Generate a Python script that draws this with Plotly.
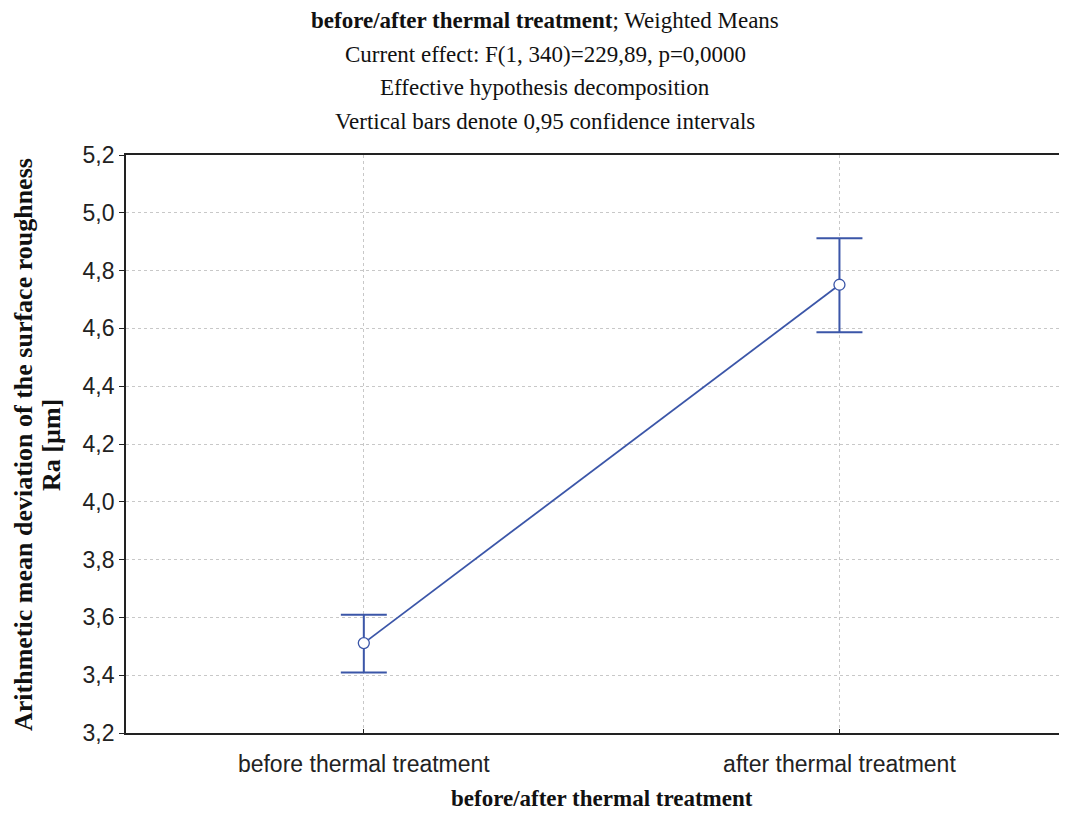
import plotly.graph_objects as go

categories = ["before thermal treatment", "after thermal treatment"]
means = [3.511, 4.751]
ci_upper = [3.609, 4.912]
ci_lower = [3.409, 4.587]
y_ticks = [3.2, 3.4, 3.6, 3.8, 4.0, 4.2, 4.4, 4.6, 4.8, 5.0, 5.2]

title_lines = [
    "<b>before/after thermal treatment</b>; Weighted Means",
    "Current effect: F(1, 340)=229,89, p=0,0000",
    "Effective hypothesis decomposition",
    "Vertical bars denote 0,95 confidence intervals",
]
y_title_lines = ["Arithmetic mean deviation of the surface roughness", "Ra [µm]"]
x_title = "before/after thermal treatment"

blue = "#3B56A8"
xpos = list(range(len(categories)))

fig = go.Figure()
fig.add_trace(go.Scatter(
    x=xpos, y=means, mode="lines+markers",
    line=dict(color=blue, width=1.8),
    marker=dict(symbol="circle", size=11, color="white", line=dict(color=blue, width=1.3)),
    error_y=dict(type="data", symmetric=False,
                 array=[u - m for u, m in zip(ci_upper, means)],
                 arrayminus=[m - l for m, l in zip(means, ci_lower)],
                 color=blue, thickness=2, width=23),
    showlegend=False,
))

serif = "Liberation Serif, Times New Roman, serif"
sans = "Liberation Sans, Arial, sans-serif"

# page is rendered with an 8px body margin; compensate
fig.update_layout(
    width=1059, height=808,
    margin=dict(l=118, r=4, t=147, b=83),
    plot_bgcolor="white", paper_bgcolor="white",
    separators=", ",
    xaxis=dict(range=[-0.5, 1.47], tickvals=xpos, ticktext=categories,
               showgrid=True, gridcolor="#c8c8c8", griddash="dot", gridwidth=1,
               showline=True, linecolor="#222", linewidth=1.8, mirror=True,
               ticks="inside", ticklen=4, tickcolor="#222", ticklabelstandoff=9,
               tickfont=dict(family=sans, size=23, color="#222"), zeroline=False),
    yaxis=dict(range=[3.2, 5.2], tickvals=y_ticks, tickformat=".1f",
               showgrid=True, gridcolor="#c8c8c8", griddash="dot", gridwidth=1,
               showline=True, linecolor="#222", linewidth=1.8,
               ticks="outside", ticklen=5, tickcolor="#222",
               tickfont=dict(family=sans, size=23, color="#222"), zeroline=False),
)

def px(page_x):
    return (page_x - 126) / 937

def py(page_y):
    return (733 - page_y) / 578

for i, t in enumerate(title_lines):
    fig.add_annotation(text=t, xref="paper", yref="paper",
                       x=px(545), y=py(20 + 34 * i),
                       xanchor="center", yanchor="middle", showarrow=False,
                       font=dict(family=serif, size=23, color="#111"))

for xc, t in zip([23, 51], y_title_lines):
    fig.add_annotation(text="<b>" + t + "</b>",
                       xref="paper", yref="paper", x=px(xc), y=py(445),
                       xanchor="center", yanchor="middle", textangle=-90, showarrow=False,
                       font=dict(family=serif, size=26, color="#111"))

fig.add_annotation(text="<b>" + x_title + "</b>",
                   xref="paper", yref="paper", x=px(602), y=py(798),
                   xanchor="center", yanchor="middle", showarrow=False,
                   font=dict(family=serif, size=23, color="#111"))

fig.write_html("out.html")
